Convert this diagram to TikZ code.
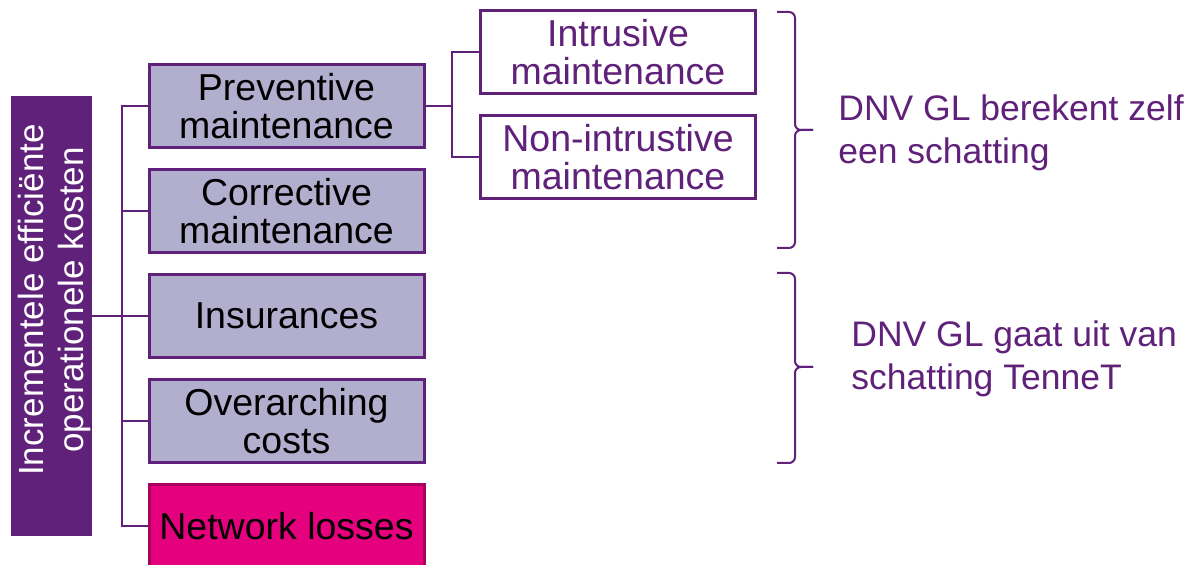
\documentclass[tikz,border=0pt]{standalone}
\usepackage{fontspec}
\setmainfont{Liberation Sans}
\usepackage{tikz}
\usetikzlibrary{positioning}
\definecolor{dnvpurple}{HTML}{5F2179}
\definecolor{lavender}{HTML}{B2AECE}
\definecolor{lossfill}{HTML}{E5007D}
\definecolor{lossdraw}{HTML}{A8005C}

\begin{document}
\begin{tikzpicture}[
  x=0.5pt, y=-0.5pt,
  node distance=9.5pt,
  blk/.style={draw=dnvpurple, line width=1.5pt, minimum width=137.5pt, minimum height=41.5pt,
              inner sep=0pt, align=center, font=\fontsize{18.75}{19}\selectfont},
  cat/.style={blk, fill=lavender},
  sub/.style={blk, fill=white, text=dnvpurple},
  loss/.style={blk, fill=lossfill, draw=lossdraw},
  root/.style={fill=dnvpurple, minimum width=40.5pt, minimum height=220pt, inner sep=0pt},
  link/.style={dnvpurple, line width=1pt},
  brc/.style={dnvpurple, line width=1pt, rounded corners=3pt},
  note/.style={text=dnvpurple, align=left, anchor=west, inner sep=0pt,
               font=\fontsize{17.75}{21.5}\selectfont}]
  \useasboundingbox (0,0) rectangle (1201,565);
  \clip (0,0) rectangle (1201,565);
  % cost tree
  \node[root] (root) at (51.5,316) {};
  \node[rotate=90, text=white, align=center, inner sep=0pt,
        font=\fontsize{17.5}{20}\selectfont] (rootlbl) at (54,300)
        {Incrementele efficiënte\\operationele kosten};
  \node[cat] (prev) at (286.5,106) {Preventive\\maintenance};
  \node[cat, below=of prev] (corr) {Corrective\\maintenance};
  \node[cat, below=of corr] (ins) {Insurances};
  \node[cat, below=of ins] (over) {Overarching\\costs};
  \node[loss, below=of over] (net) {Network losses};
  \node[sub] (intr) at (618,52.5) {Intrusive\\maintenance};
  \node[sub, below=of intr] (nonintr) {Non-intrustive\\maintenance};
  \coordinate (bus) at (122,316);
  \coordinate (fork) at (452,106);
  \draw[link] (root.east) -- (ins.west);
  \draw[link] (prev.west) -| (bus) |- (net.west);
  \foreach \n in {corr,ins,over}
    \draw[link] (bus |- \n.west) -- (\n.west);
  \draw[link] (prev.east) -- (fork);
  \draw[link] (intr.west) -| (fork) |- (nonintr.west);
  % who estimates what
  \draw[brc] (777,12) -| (795,130) -- (813,130);
  \draw[brc] (777,248) -| (795,130) -- (813,130);
  \draw[brc] (777,273) -| (795,367) -- (813,367);
  \draw[brc] (777,463) -| (795,367) -- (813,367);
  \node[note] (est1) at (838,133) {DNV GL berekent zelf\\een schatting};
  \node[note] (est2) at (851,359) {DNV GL gaat uit van\\schatting TenneT};
\end{tikzpicture}
\end{document}
